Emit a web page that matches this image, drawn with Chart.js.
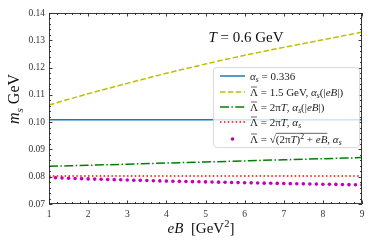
<!DOCTYPE html>
<html>
<head>
<meta charset="utf-8">
<script src="https://cdn.jsdelivr.net/npm/chart.js@4.4.1/dist/chart.umd.min.js"></script>
<style>
  html, body { margin: 0; padding: 0; background: #fff; }
  #wrap { width: 374px; height: 249px; }
</style>
</head>
<body>
<div id="wrap"><canvas id="c" width="374" height="249"></canvas></div>
<script>
// eB in GeV^2
const eB = [1, 2, 3, 4, 5, 6, 7, 8, 9];
const fiksnaAlfa = [0.1009, 0.1009, 0.1009, 0.1009, 0.1009, 0.1009, 0.1009, 0.1009, 0.1009];
const lambda15 = [0.1063, 0.1104, 0.1142, 0.1179, 0.1213, 0.1245, 0.1274, 0.1302, 0.1330];
const lambda2piT = [0.0838, 0.0842, 0.0846, 0.0850, 0.0854, 0.0858, 0.0862, 0.0866, 0.0870];
const lambda2piTfix = [0.0803, 0.0803, 0.0803, 0.0803, 0.0803, 0.0803, 0.0803, 0.0803, 0.0803];

// sqrt((2piT)^2 + eB) tocke
const eBtocke = [1, 1.167, 1.333, 1.5, 1.667, 1.833, 2, 2.167, 2.333, 2.5, 2.667, 2.833,
  3, 3.167, 3.333, 3.5, 3.667, 3.833, 4, 4.167, 4.333, 4.5, 4.667, 4.833,
  5, 5.167, 5.333, 5.5, 5.667, 5.833, 6, 6.167, 6.333, 6.5, 6.667, 6.833,
  7, 7.167, 7.333, 7.5, 7.667, 7.833, 8, 8.167, 8.333, 8.5, 8.667, 8.833, 9];
const lambdaKoren = [0.07970, 0.07961, 0.07953, 0.07945, 0.07937, 0.07929, 0.07920, 0.07913,
  0.07906, 0.07900, 0.07893, 0.07886, 0.07880, 0.07873, 0.07866, 0.07860, 0.07853,
  0.07846, 0.07840, 0.07835, 0.07830, 0.07825, 0.07820, 0.07815, 0.07810, 0.07805,
  0.07800, 0.07795, 0.07790, 0.07785, 0.07780, 0.07775, 0.07770, 0.07765, 0.07760,
  0.07755, 0.07750, 0.07746, 0.07742, 0.07738, 0.07734, 0.07730, 0.07726, 0.07722,
  0.07718, 0.07714, 0.07710, 0.07705, 0.07700];

const xTicks = [1, 2, 3, 4, 5, 6, 7, 8, 9];
const yTicks = [0.07, 0.08, 0.09, 0.10, 0.11, 0.12, 0.13, 0.14];

const SERIF = "'Liberation Serif', 'DejaVu Serif', serif";

function tocke(xs, ys) {
  return xs.map((x, i) => ({ x: x, y: ys[i] }));
}

// risanje teksta z matematiko
function merilo(ctx, deli, vel) {
  let w = 0;
  deli.forEach((d) => {
    const s = d.sub || d.sup ? vel * 0.7 : vel;
    ctx.font = (d.it ? "italic " : "") + s + "px " + SERIF;
    d._w = ctx.measureText(d.t).width;
    d._s = s;
    w += d._w;
  });
  return w;
}

function narisiTekst(ctx, x, y, deli, vel, poravnava) {
  const w = merilo(ctx, deli, vel);
  let cx = poravnava === "center" ? x - w / 2 : x;
  ctx.textBaseline = "alphabetic";
  ctx.textAlign = "left";
  deli.forEach((d) => {
    ctx.font = (d.it ? "italic " : "") + d._s + "px " + SERIF;
    let dy = 0;
    if (d.sub) dy = vel * 0.22;
    if (d.sup) dy = -vel * 0.38;
    ctx.fillText(d.t, cx, y + dy);
    if (d.bar || d.over) {
      const top = d.over ? y - vel * 0.86 : y - vel * 0.8;
      ctx.beginPath();
      ctx.lineWidth = 0.7;
      ctx.moveTo(cx + (d.bar ? 1 : 0), top);
      ctx.lineTo(cx + d._w - (d.bar ? 1 : 0), top);
      ctx.stroke();
    }
    cx += d._w;
  });
}

const legenda = [
  { barva: "#1f77b4", crta: [], tip: "line",
    tekst: [{ t: "α", it: 1 }, { t: "s", it: 1, sub: 1 }, { t: " = 0.336" }] },
  { barva: "#bfbf00", crta: [5.5, 2.4], tip: "line",
    tekst: [{ t: "Λ", bar: 1 }, { t: " = 1.5 GeV, " }, { t: "α", it: 1 }, { t: "s", it: 1, sub: 1 },
      { t: "(|" }, { t: "eB", it: 1 }, { t: "|)" }] },
  { barva: "#008000", crta: [9, 2.4, 1.5, 2.4], tip: "line",
    tekst: [{ t: "Λ", bar: 1 }, { t: " = 2π" }, { t: "T", it: 1 }, { t: ", " }, { t: "α", it: 1 },
      { t: "s", it: 1, sub: 1 }, { t: "(|" }, { t: "eB", it: 1 }, { t: "|)" }] },
  { barva: "#ff0000", crta: [1.5, 2.4], tip: "line",
    tekst: [{ t: "Λ", bar: 1 }, { t: " = 2π" }, { t: "T", it: 1 }, { t: ", " }, { t: "α", it: 1 },
      { t: "s", it: 1, sub: 1 }] },
  { barva: "#bf00bf", crta: [], tip: "dot",
    tekst: [{ t: "Λ", bar: 1 }, { t: " = " }, { t: "√" }, { t: "(2π", over: 1 }, { t: "T", it: 1, over: 1 },
      { t: ")", over: 1 }, { t: "2", sup: 1, over: 1 }, { t: " + ", over: 1 }, { t: "eB", it: 1, over: 1 },
      { t: ", " }, { t: "α", it: 1 }, { t: "s", it: 1, sub: 1 }] },
];

const okvir = {
  id: "okvir",
  afterDatasetsDraw(chart) {
    const ctx = chart.ctx;
    const a = chart.chartArea;
    const sx = chart.scales.x;
    const sy = chart.scales.y;
    ctx.save();
    ctx.strokeStyle = "#262626";
    ctx.lineWidth = 0.9;
    // kljukice navznoter
    for (let v = 1; v <= 9.001; v += 0.2) {
      const px = Math.round(sx.getPixelForValue(v)) + 0.5;
      const major = Math.abs(v - Math.round(v)) < 0.01;
      const L = major ? 3.5 : 2;
      ctx.beginPath();
      ctx.moveTo(px, a.bottom); ctx.lineTo(px, a.bottom - L);
      ctx.moveTo(px, a.top); ctx.lineTo(px, a.top + L);
      ctx.stroke();
    }
    for (let i = 0; i <= 35; i++) {
      const v = 0.07 + i * 0.002;
      const py = Math.round(sy.getPixelForValue(v)) + 0.5;
      const L = i % 5 === 0 ? 3.5 : 2;
      ctx.beginPath();
      ctx.moveTo(a.left, py); ctx.lineTo(a.left + L, py);
      ctx.moveTo(a.right, py); ctx.lineTo(a.right - L, py);
      ctx.stroke();
    }
    ctx.strokeRect(a.left + 0.5, a.top + 0.5, a.right - a.left - 1, a.bottom - a.top - 1);

    // napisi
    ctx.fillStyle = "#111";
    ctx.strokeStyle = "#111";
    narisiTekst(ctx, 246, 42, [{ t: "T", it: 1 }, { t: " = 0.6 GeV" }], 15, "center");
    narisiTekst(ctx, 201, 233, [{ t: "eB", it: 1 }, { t: "  [GeV" }, { t: "2", sup: 1 }, { t: "]" }], 15, "center");
    ctx.save();
    ctx.translate(19, 99);
    ctx.rotate(-Math.PI / 2);
    narisiTekst(ctx, 0, 0, [{ t: "m", it: 1 }, { t: "s", it: 1, sub: 1 }, { t: " GeV" }], 16, "center");
    ctx.restore();

    // legenda
    const lx = 213, ly = 67, lw = 146, lh = 80;
    ctx.beginPath();
    ctx.roundRect(lx + 0.5, ly + 0.5, lw, lh, 3);
    ctx.fillStyle = "rgba(255,255,255,0.8)";
    ctx.fill();
    ctx.strokeStyle = "#d0d0d0";
    ctx.lineWidth = 0.8;
    ctx.stroke();
    const vrste = [76, 92, 107, 122, 139];
    legenda.forEach((e, i) => {
      const yy = vrste[i];
      ctx.strokeStyle = e.barva;
      ctx.fillStyle = e.barva;
      if (e.tip === "line") {
        ctx.lineWidth = 1.5;
        ctx.setLineDash(e.crta);
        ctx.beginPath();
        ctx.moveTo(220, yy); ctx.lineTo(245, yy);
        ctx.stroke();
        ctx.setLineDash([]);
      } else {
        ctx.beginPath();
        ctx.arc(232.5, yy, 1.8, 0, Math.PI * 2);
        ctx.fill();
      }
      ctx.fillStyle = "#222";
      ctx.strokeStyle = "#222";
      narisiTekst(ctx, 250, yy + 3.8, e.tekst, 11, "left");
    });
    ctx.restore();
  },
};

const crta = (podatki, barva, vzorec) => ({
  data: podatki,
  borderColor: barva,
  borderWidth: 1.5,
  borderDash: vzorec,
  pointRadius: 0,
  fill: false,
  cubicInterpolationMode: "monotone",
});

new Chart(document.getElementById("c"), {
  type: "line",
  data: {
    datasets: [
      crta(tocke(eB, fiksnaAlfa), "#1f77b4", []),
      crta(tocke(eB, lambda15), "#bfbf00", [5.5, 2.4]),
      crta(tocke(eB, lambda2piT), "#008000", [9, 2.4, 1.5, 2.4]),
      crta(tocke(eB, lambda2piTfix), "#ff0000", [1.5, 2.4]),
      {
        data: tocke(eBtocke, lambdaKoren),
        showLine: false,
        pointRadius: 1.8,
        pointBackgroundColor: "#bf00bf",
        pointBorderWidth: 0,
        borderColor: "#bf00bf",
      },
    ],
  },
  plugins: [okvir],
  options: {
    responsive: false,
    animation: false,
    events: [],
    layout: { padding: { left: 0, right: 12, top: 13, bottom: 0 } },
    plugins: { legend: { display: false }, tooltip: { enabled: false } },
    scales: {
      x: {
        type: "linear",
        min: 1,
        max: 9,
        afterFit: (s) => { s.height = 45; },
        afterBuildTicks: (s) => { s.ticks = xTicks.map((v) => ({ value: v })); },
        grid: { display: false, drawTicks: false },
        border: { display: false },
        ticks: { color: "#333", font: { family: SERIF, size: 9.5 }, padding: 5, maxRotation: 0 },
      },
      y: {
        type: "linear",
        min: 0.07,
        max: 0.14,
        afterFit: (s) => { s.width = 49; },
        afterBuildTicks: (s) => { s.ticks = yTicks.map((v) => ({ value: v })); },
        grid: { display: false, drawTicks: false },
        border: { display: false },
        ticks: {
          color: "#333",
          font: { family: SERIF, size: 9.5 },
          padding: 4,
          callback: (v) => v.toFixed(2),
        },
      },
    },
  },
});
</script>
</body>
</html>
